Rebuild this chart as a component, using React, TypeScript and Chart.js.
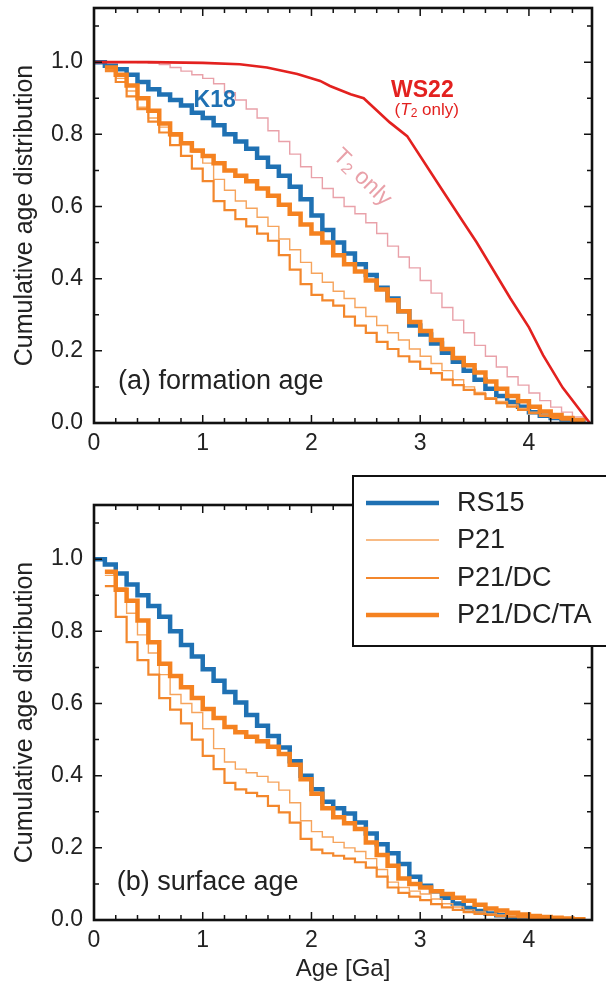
import React, { useEffect, useRef } from "react";
import { Chart, registerables } from "chart.js";
Chart.register(...registerables);

const FONT = "'Liberation Sans', Arial, Helvetica, sans-serif";

// Age bins [Ga]
const AGES = [
  0.0, 0.1, 0.2, 0.3, 0.4, 0.5, 0.6, 0.7, 0.8, 0.9,
  1.0, 1.1, 1.2, 1.3, 1.4, 1.5, 1.6, 1.7, 1.8, 1.9,
  2.0, 2.1, 2.2, 2.3, 2.4, 2.5, 2.6, 2.7, 2.8, 2.9,
  3.0, 3.1, 3.2, 3.3, 3.4, 3.5, 3.6, 3.7, 3.8, 3.9,
  4.0, 4.1, 4.2, 4.3, 4.4, 4.5,
];

// (a) formation age
const FORM_K18 = [
  1.0, 0.99, 0.98, 0.965, 0.945, 0.925, 0.91, 0.895, 0.88, 0.86,
  0.845, 0.825, 0.8, 0.78, 0.76, 0.735, 0.71, 0.685, 0.655, 0.62,
  0.575, 0.535, 0.5, 0.47, 0.44, 0.41, 0.375, 0.345, 0.31, 0.27,
  0.245, 0.22, 0.195, 0.17, 0.145, 0.12, 0.095, 0.075, 0.058, 0.045,
  0.03, 0.02, 0.014, 0.01, 0.006, 0.003,
];
const FORM_P21_DC_TA = [
  null, 0.985, 0.965, 0.935, 0.9, 0.865, 0.83, 0.8, 0.775, 0.755,
  0.74, 0.72, 0.7, 0.685, 0.67, 0.65, 0.63, 0.605, 0.58, 0.55,
  0.525, 0.5, 0.465, 0.44, 0.42, 0.395, 0.37, 0.34, 0.31, 0.28,
  0.255, 0.23, 0.205, 0.18, 0.16, 0.14, 0.115, 0.095, 0.075, 0.06,
  0.045, 0.032, 0.022, 0.014, 0.008, 0.004,
];
const FORM_P21 = [
  null, 0.98, 0.955, 0.92, 0.875, 0.845, 0.82, 0.795, 0.775, 0.75,
  0.72, 0.675, 0.645, 0.615, 0.595, 0.57, 0.545, 0.51, 0.48, 0.445,
  0.415, 0.39, 0.365, 0.345, 0.32, 0.295, 0.27, 0.25, 0.23, 0.205,
  0.185, 0.165, 0.145, 0.12, 0.1, 0.085, 0.07, 0.06, 0.05, 0.04,
  0.03, 0.022, 0.015, 0.01, 0.006, 0.003,
];
const FORM_P21_DC = [
  null, 0.975, 0.945, 0.905, 0.87, 0.835, 0.805, 0.77, 0.74, 0.705,
  0.67, 0.615, 0.59, 0.565, 0.545, 0.525, 0.505, 0.465, 0.425, 0.385,
  0.355, 0.34, 0.325, 0.295, 0.27, 0.25, 0.225, 0.205, 0.185, 0.17,
  0.15, 0.138, 0.12, 0.105, 0.092, 0.08, 0.067, 0.055, 0.045, 0.036,
  0.027, 0.02, 0.014, 0.009, 0.005, 0.002,
];
const FORM_T2_ONLY = [
  1.0, 1.0, 1.0, 1.0, 0.999, 0.997, 0.993, 0.985, 0.975, 0.965,
  0.955, 0.94, 0.915, 0.895, 0.87, 0.845, 0.81, 0.78, 0.745, 0.71,
  0.68, 0.65, 0.625, 0.6, 0.58, 0.555, 0.525, 0.49, 0.46, 0.43,
  0.395, 0.36, 0.32, 0.285, 0.25, 0.215, 0.185, 0.155, 0.128, 0.105,
  0.083, 0.062, 0.044, 0.03, 0.017, 0.007,
];
const WS22_AGES = [0, 0.5, 1.0, 1.34, 1.59, 1.87, 2.08, 2.17, 2.36, 2.48, 2.72, 2.88, 3.18, 3.4, 3.52, 3.83, 4.0, 4.13, 4.31, 4.56];
const WS22_VALUES = [1.0, 1.0, 0.998, 0.994, 0.985, 0.967, 0.948, 0.934, 0.911, 0.9, 0.833, 0.795, 0.656, 0.555, 0.5, 0.345, 0.265, 0.188, 0.098, 0.0];

// (b) surface age
const SURF_RS15 = [
  1.0, 0.985, 0.96, 0.93, 0.9, 0.87, 0.84, 0.8, 0.762, 0.73,
  0.695, 0.663, 0.632, 0.603, 0.568, 0.538, 0.51, 0.478, 0.44, 0.4,
  0.362, 0.328, 0.31, 0.295, 0.27, 0.24, 0.21, 0.185, 0.155, 0.12,
  0.095, 0.08, 0.062, 0.046, 0.033, 0.025, 0.018, 0.013, 0.009, 0.007,
  0.005, 0.004, 0.003, 0.002, 0.001, 0.001,
];
const SURF_P21_DC_TA = [
  null, 0.965, 0.915, 0.885, 0.83, 0.77, 0.71, 0.676, 0.645, 0.615,
  0.585, 0.56, 0.535, 0.52, 0.508, 0.495, 0.48, 0.46, 0.43, 0.39,
  0.35, 0.31, 0.285, 0.268, 0.252, 0.215, 0.18, 0.15, 0.115, 0.1,
  0.09, 0.08, 0.072, 0.062, 0.053, 0.042, 0.032, 0.026, 0.02, 0.015,
  0.011, 0.008, 0.006, 0.004, 0.002, 0.001,
];
const SURF_P21 = [
  null, 0.955, 0.92, 0.85, 0.79, 0.74, 0.68, 0.625, 0.6, 0.575,
  0.53, 0.475, 0.438, 0.418, 0.408, 0.398, 0.382, 0.36, 0.325, 0.275,
  0.245, 0.23, 0.215, 0.2, 0.19, 0.17, 0.14, 0.105, 0.09, 0.08,
  0.072, 0.058, 0.045, 0.036, 0.028, 0.022, 0.017, 0.014, 0.012, 0.01,
  0.008, 0.006, 0.004, 0.003, 0.002, 0.001,
];
const SURF_P21_DC = [
  null, 0.925, 0.84, 0.77, 0.72, 0.68, 0.615, 0.583, 0.545, 0.5,
  0.455, 0.418, 0.38, 0.362, 0.352, 0.343, 0.316, 0.298, 0.27, 0.225,
  0.195, 0.185, 0.178, 0.17, 0.16, 0.145, 0.12, 0.09, 0.075, 0.065,
  0.055, 0.044, 0.035, 0.028, 0.022, 0.017, 0.014, 0.011, 0.009, 0.007,
  0.006, 0.004, 0.003, 0.002, 0.001, 0.001,
];

const X_MAJOR = [0, 1, 2, 3, 4];
const X_MINOR = [0.2, 0.4, 0.6, 0.8, 1.2, 1.4, 1.6, 1.8, 2.2, 2.4, 2.6, 2.8, 3.2, 3.4, 3.6, 3.8, 4.2, 4.4];
const Y_MAJOR = [0, 0.2, 0.4, 0.6, 0.8, 1.0];
const Y_MINOR = [0.1, 0.3, 0.5, 0.7, 0.9, 1.1];
const X_MAX = 4.58;
const Y_MAX = 1.15;

const LEGEND_LABELS = ["RS15", "P21", "P21/DC", "P21/DC/TA"];

const C_BLUE = "#1f71b3";
const C_ORANGE = "#f58220";
const C_ORANGE_MID = "#f3872c";
const C_ORANGE_LIGHT = "#f6a45c";
const C_RED = "#e3211f";
const C_PINK = "#e9a1a9";
const C_TEXT = "#222";

const toPts = (xs: number[], ys: (number | null)[]) => xs.map((x, i) => ({ x, y: ys[i] }));

function stepSet(label: string, values: (number | null)[], color: string, width: number) {
  return {
    label,
    data: toPts(AGES, values),
    borderColor: color,
    borderWidth: width,
    pointRadius: 0,
    stepped: "before" as const,
    fill: false,
    borderJoinStyle: "miter" as const,
    borderCapStyle: "butt" as const,
    spanGaps: false,
  };
}

type Run = { t: string; font: string; dy?: number };
function drawRuns(ctx: CanvasRenderingContext2D, runs: Run[], x: number, y: number, align: "left" | "center") {
  let total = 0;
  const widths = runs.map((r) => {
    ctx.font = r.font;
    const w = ctx.measureText(r.t).width;
    total += w;
    return w;
  });
  let cx = align === "center" ? x - total / 2 : x;
  ctx.textAlign = "left";
  ctx.textBaseline = "middle";
  runs.forEach((r, i) => {
    ctx.font = r.font;
    ctx.fillText(r.t, cx, y + (r.dy || 0));
    cx += widths[i];
  });
}

const framePlugin = {
  id: "frame",
  afterDatasetsDraw(chart: any) {
    const { ctx, chartArea } = chart;
    const { left, right, top, bottom } = chartArea;
    const xs = chart.scales.x;
    const ys = chart.scales.y;
    ctx.save();
    ctx.strokeStyle = "#111";
    ctx.lineWidth = 1.5;
    ctx.beginPath();
    const xt = [...X_MAJOR.map((v) => [v, 8]), ...X_MINOR.map((v) => [v, 5])];
    xt.forEach(([v, len]) => {
      const px = xs.getPixelForValue(v);
      ctx.moveTo(px, bottom);
      ctx.lineTo(px, bottom - len);
      ctx.moveTo(px, top);
      ctx.lineTo(px, top + len);
    });
    const yt = [...Y_MAJOR.map((v) => [v, 8]), ...Y_MINOR.map((v) => [v, 5])];
    yt.forEach(([v, len]) => {
      const py = ys.getPixelForValue(v);
      ctx.moveTo(left, py);
      ctx.lineTo(left + len, py);
      ctx.moveTo(right, py);
      ctx.lineTo(right - len, py);
    });
    ctx.stroke();
    ctx.lineWidth = 2.6;
    ctx.strokeRect(left, top, right - left, bottom - top);
    ctx.restore();
  },
};

const topLabels = {
  id: "topLabels",
  afterDraw(chart: any) {
    const { ctx } = chart;
    const xs = chart.scales.x;
    const ys = chart.scales.y;
    const P = (x: number, y: number) => [xs.getPixelForValue(x), ys.getPixelForValue(y)];
    ctx.save();
    let [x, y] = P(1.11, 0.894);
    ctx.fillStyle = C_BLUE;
    drawRuns(ctx, [{ t: "K18", font: `bold 23px ${FONT}` }], x, y, "center");
    [x, y] = P(3.02, 0.922);
    ctx.fillStyle = C_RED;
    drawRuns(ctx, [{ t: "WS22", font: `bold 23px ${FONT}` }], x, y, "center");
    [x, y] = P(3.06, 0.867);
    drawRuns(
      ctx,
      [
        { t: "(", font: `17px ${FONT}` },
        { t: "T", font: `italic 17px ${FONT}` },
        { t: "2", font: `12px ${FONT}`, dy: 4 },
        { t: " only)", font: `17px ${FONT}` },
      ],
      x,
      y,
      "center"
    );
    [x, y] = P(2.466, 0.68);
    ctx.fillStyle = C_PINK;
    ctx.save();
    ctx.translate(x, y);
    ctx.rotate((44 * Math.PI) / 180);
    drawRuns(
      ctx,
      [
        { t: "T", font: `23px ${FONT}` },
        { t: "2", font: `16px ${FONT}`, dy: 5 },
        { t: " only", font: `23px ${FONT}` },
      ],
      0,
      0,
      "center"
    );
    ctx.restore();
    [x, y] = P(0.22, 0.114);
    ctx.fillStyle = C_TEXT;
    drawRuns(ctx, [{ t: "(a) formation age", font: `27px ${FONT}` }], x, y, "left");
    ctx.restore();
  },
};

const bottomLabels = {
  id: "bottomLabels",
  afterDraw(chart: any) {
    const { ctx } = chart;
    const xs = chart.scales.x;
    const ys = chart.scales.y;
    ctx.save();
    ctx.fillStyle = C_TEXT;
    drawRuns(ctx, [{ t: "(b) surface age", font: `27px ${FONT}` }], xs.getPixelForValue(0.21), ys.getPixelForValue(0.103), "left");
    // legend box
    const bx = 353, by = 16, bw = 262, bh = 170;
    ctx.fillStyle = "#fff";
    ctx.fillRect(bx, by, bw, bh);
    ctx.strokeStyle = "#111";
    ctx.lineWidth = 2;
    ctx.strokeRect(bx, by, bw, bh);
    const styles = [
      [C_BLUE, 4.5],
      [C_ORANGE_LIGHT, 1.4],
      [C_ORANGE_MID, 2.2],
      [C_ORANGE, 4.5],
    ];
    const rows = [43, 80, 118, 155];
    LEGEND_LABELS.forEach((lab, i) => {
      const [c, w] = styles[i];
      ctx.strokeStyle = c as string;
      ctx.lineWidth = w as number;
      ctx.beginPath();
      ctx.moveTo(366, rows[i]);
      ctx.lineTo(439, rows[i]);
      ctx.stroke();
      ctx.fillStyle = C_TEXT;
      drawRuns(ctx, [{ t: lab, font: `27px ${FONT}` }], 457, rows[i] + 1, "left");
    });
    ctx.restore();
  },
};

function makeOptions(xHeight: number, padTop: number, xTitle: string | null) {
  return {
    animation: false,
    responsive: false,
    devicePixelRatio: 1,
    layout: { padding: { top: padTop, right: 14, left: 0, bottom: 0 } },
    plugins: { legend: { display: false }, tooltip: { enabled: false } },
    scales: {
      x: {
        type: "linear",
        min: 0,
        max: X_MAX,
        border: { display: false },
        grid: { display: false, drawTicks: false },
        ticks: {
          padding: 7,
          autoSkip: false,
          maxRotation: 0,
          color: C_TEXT,
          font: { size: 23, family: FONT },
          callback: (v: any) => String(v),
        },
        afterBuildTicks: (s: any) => {
          s.ticks = X_MAJOR.map((v) => ({ value: v }));
        },
        afterFit: (s: any) => {
          s.height = xHeight;
          s.paddingLeft = 0;
          s.paddingRight = 0;
          s.paddingTop = 0;
          s.paddingBottom = 0;
        },
        title: xTitle
          ? { display: true, text: xTitle, color: C_TEXT, font: { size: 24, family: FONT }, padding: { top: 0, bottom: 8 } }
          : { display: false },
      },
      y: {
        type: "linear",
        min: 0,
        max: Y_MAX,
        border: { display: false },
        grid: { display: false, drawTicks: false },
        ticks: {
          padding: 11,
          color: C_TEXT,
          font: { size: 23, family: FONT },
          callback: (v: any) => Number(v).toFixed(1),
        },
        afterBuildTicks: (s: any) => {
          s.ticks = Y_MAJOR.map((v) => ({ value: v }));
        },
        afterFit: (s: any) => {
          s.width = 94;
          s.paddingLeft = 0;
          s.paddingRight = 0;
          s.paddingTop = 0;
          s.paddingBottom = 0;
        },
        title: {
          display: true,
          text: "Cumulative age distribution",
          color: C_TEXT,
          font: { size: 25, family: FONT },
          padding: { top: 10, bottom: 0 },
        },
      },
    },
  };
}

export default function App() {
  const topRef = useRef<HTMLCanvasElement | null>(null);
  const botRef = useRef<HTMLCanvasElement | null>(null);

  useEffect(() => {
    const top = new Chart(topRef.current as HTMLCanvasElement, {
      type: "line",
      data: {
        datasets: [
          {
            label: "WS22",
            data: toPts(WS22_AGES, WS22_VALUES),
            borderColor: C_RED,
            borderWidth: 2.6,
            pointRadius: 0,
            fill: false,
            tension: 0,
          },
          stepSet("P21/DC/TA", FORM_P21_DC_TA, C_ORANGE, 4.5),
          stepSet("P21/DC", FORM_P21_DC, C_ORANGE_MID, 2.2),
          stepSet("P21", FORM_P21, C_ORANGE_LIGHT, 1.4),
          stepSet("K18", FORM_K18, C_BLUE, 4.5),
          stepSet("T2 only", FORM_T2_ONLY, C_PINK, 1.4),
        ] as any,
      },
      options: makeOptions(37, 8, null) as any,
      plugins: [framePlugin, topLabels],
    });
    const bot = new Chart(botRef.current as HTMLCanvasElement, {
      type: "line",
      data: {
        datasets: [
          stepSet("P21/DC/TA", SURF_P21_DC_TA, C_ORANGE, 4.5),
          stepSet("P21/DC", SURF_P21_DC, C_ORANGE_MID, 2.2),
          stepSet("P21", SURF_P21, C_ORANGE_LIGHT, 1.4),
          stepSet("RS15", SURF_RS15, C_BLUE, 4.5),
        ] as any,
      },
      options: makeOptions(72, 45, "Age [Ga]") as any,
      plugins: [framePlugin, bottomLabels],
    });
    return () => {
      top.destroy();
      bot.destroy();
    };
  }, []);

  return (
    <div style={{ position: "fixed", left: 0, top: 0, width: 606, height: 992, background: "#fff", overflow: "hidden" }}>
      <canvas ref={topRef} width={606} height={460} style={{ position: "absolute", left: 0, top: 0, width: 606, height: 460 }} />
      <canvas ref={botRef} width={606} height={532} style={{ position: "absolute", left: 0, top: 460, width: 606, height: 532 }} />
    </div>
  );
}
